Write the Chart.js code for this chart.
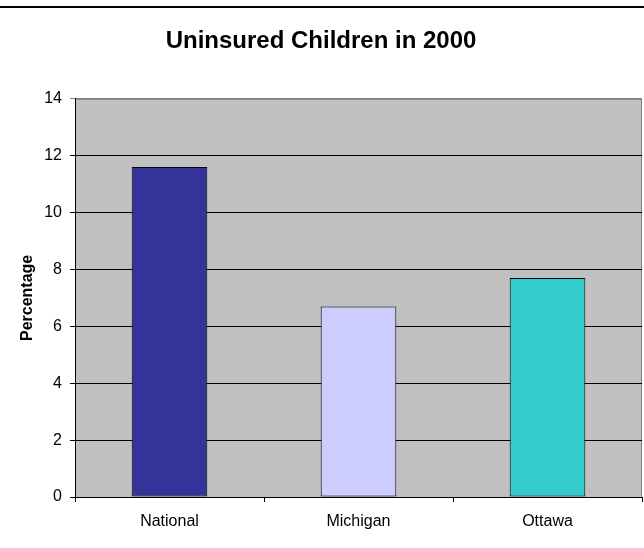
<!DOCTYPE html>
<html>
<head>
<meta charset="utf-8">
<script src="https://cdn.jsdelivr.net/npm/chart.js@4.4.1/dist/chart.umd.min.js"></script>
<style>
  html, body { margin: 0; padding: 0; background: #fff; }
  #wrap { position: relative; width: 644px; height: 548px; }
  #topRule { position: absolute; left: 0; top: 6px; width: 644px; height: 2px; background: #000; }
  canvas { display: block; }
</style>
</head>
<body>
<div id="wrap">
  <div id="topRule"></div>
  <canvas id="chart" width="644" height="548"></canvas>
</div>
<script>
// Uninsured children by region, percent
const regions = ['National', 'Michigan', 'Ottawa'];
const uninsuredPct = [11.6, 6.7, 7.7];
const barColors = ['#333399', '#CCCCFF', '#33CCCC'];
const yTicks = [0, 2, 4, 6, 8, 10, 12, 14];

const fontFamily = 'Arial, "Liberation Sans", sans-serif';

// grey plot background and frame
const plotBackground = {
    id: 'plotBackground',
    beforeDraw(chart) {
        const { ctx, chartArea: a } = chart;
        ctx.save();
        ctx.fillStyle = '#C0C0C0';
        ctx.fillRect(a.left, a.top, a.right - a.left, a.bottom - a.top);
        ctx.strokeStyle = '#808080';
        ctx.lineWidth = 1;
        ctx.strokeRect(a.left + 0.5, a.top + 0.5, a.right - a.left - 1, a.bottom - a.top);
        ctx.restore();
    }
};

new Chart(document.getElementById('chart'), {
    type: 'bar',
    data: {
        labels: regions,
        datasets: [{
            data: uninsuredPct,
            backgroundColor: barColors,
            borderColor: '#000',
            borderWidth: 1,
            borderSkipped: false,
            categoryPercentage: 0.4,
            barPercentage: 1
        }]
    },
    options: {
        responsive: false,
        animation: false,
        layout: { padding: { left: 0, right: 2, top: 0, bottom: 0 } },
        plugins: {
            legend: { display: false },
            tooltip: { enabled: false },
            title: {
                display: true,
                text: 'Uninsured Children in 2000',
                color: '#000',
                font: { family: fontFamily, size: 24, weight: 'bold', lineHeight: 1.2 },
                padding: { top: 27, bottom: 43 }
            }
        },
        scales: {
            x: {
                grid: {
                    offset: true,
                    drawOnChartArea: false,
                    drawTicks: true,
                    tickLength: 5,
                    color: '#000'
                },
                border: { color: '#000', width: 1 },
                ticks: {
                    color: '#000',
                    padding: 10,
                    font: { family: fontFamily, size: 16 }
                },
                afterFit(scale) { scale.height = 51; }
            },
            y: {
                min: 0,
                max: 14,
                afterBuildTicks(scale) {
                    scale.ticks = yTicks.map(v => ({ value: v }));
                },
                grid: {
                    color: ctx => (ctx.tick && ctx.tick.value === 14 ? '#808080' : '#000'),
                    drawTicks: true,
                    tickLength: 5,
                    lineWidth: 1
                },
                border: { color: '#000', width: 1 },
                ticks: {
                    color: '#000',
                    padding: 8,
                    font: { family: fontFamily, size: 16 }
                },
                title: {
                    display: true,
                    text: 'Percentage',
                    color: '#000',
                    font: { family: fontFamily, size: 16, weight: 'bold', lineHeight: 1.2 },
                    padding: { top: 18, bottom: 0 }
                },
                afterFit(scale) { scale.width = 75; }
            }
        }
    },
    plugins: [plotBackground]
});
</script>
</body>
</html>
